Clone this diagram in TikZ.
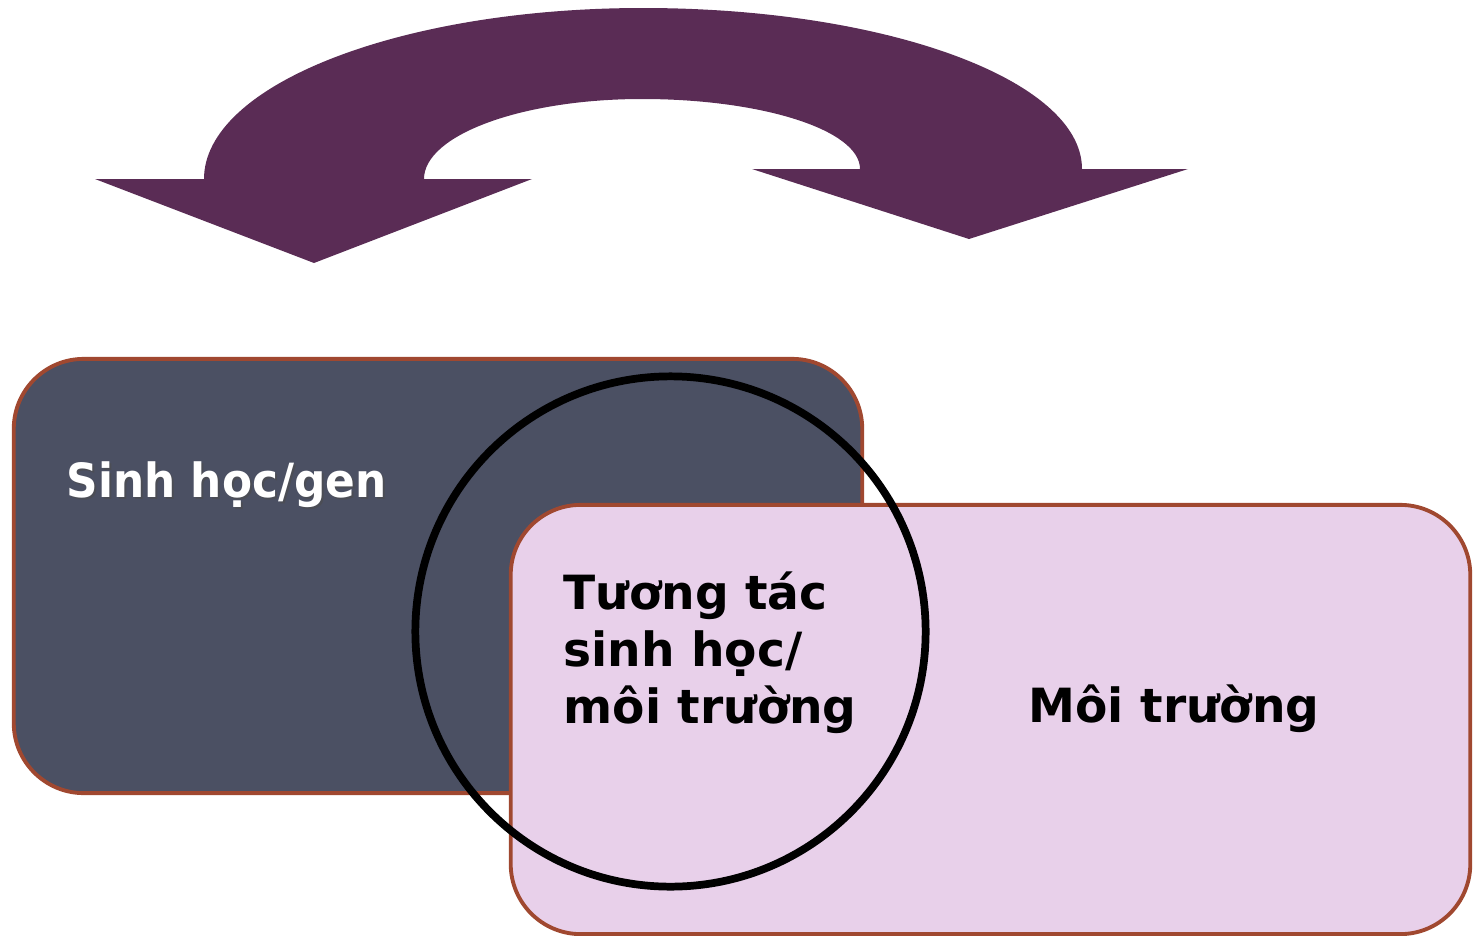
\documentclass[tikz,border=0pt]{standalone}
\usepackage{fontspec}
\setmainfont{DejaVu Sans}
\newfontfamily\condfont{DejaVu Sans}[FakeStretch=0.93]
\definecolor{slate}{RGB}{75,80,99}
\definecolor{lilac}{RGB}{232,208,234}
\definecolor{rust}{RGB}{160,72,48}
\definecolor{plum}{RGB}{90,44,85}
\tikzset{
	box/.style={draw=rust, line width=1.1pt, rounded corners=0.7cm, inner sep=0pt},
	label/.style={anchor=base west, inner sep=0pt, font=\fontsize{13.4}{16.2}\selectfont\bfseries, align=left}
}
\begin{document}
\begin{tikzpicture}[x=0.01cm,y=-0.01cm]
	\useasboundingbox (0,0) rectangle (1478,936);
	% double arrow on top
	\fill[plum] (314,263) -- (95,179) -- (204,179)
		.. controls (204,85) and (400,8) .. (643,8)
		.. controls (886,8) and (1082,80) .. (1082,169)
		-- (1188,169) -- (969,239) -- (752,169) -- (860,169)
		.. controls (860,130) and (762,99) .. (642,99)
		.. controls (522,99) and (424,135) .. (424,179)
		-- (532,179) -- cycle;
	% the two boxes
	\node[box, fill=slate, minimum width=8.48cm, minimum height=4.34cm] (bio) at (438,576) {};
	\node[box, fill=lilac, minimum width=9.59cm, minimum height=4.29cm] (env) at (990.5,719.5) {};
	\node[circle, draw=black, line width=2.2pt, inner sep=0pt, minimum size=5.1cm] (mix) at (670.5,631.5) {};
	% texts
	\node[label, text=black!70, opacity=0.6] at (68,499) {\condfont Sinh học/gen};
	\node[label, text=white] (biotext) at (66,497) {\condfont Sinh học/gen};
	\node[label] (mixtext) at (563,723) {Tương tác\\sinh học/\\môi trường};
	\node[label] (envtext) at (1028,722) {Môi trường};
\end{tikzpicture}
\end{document}
